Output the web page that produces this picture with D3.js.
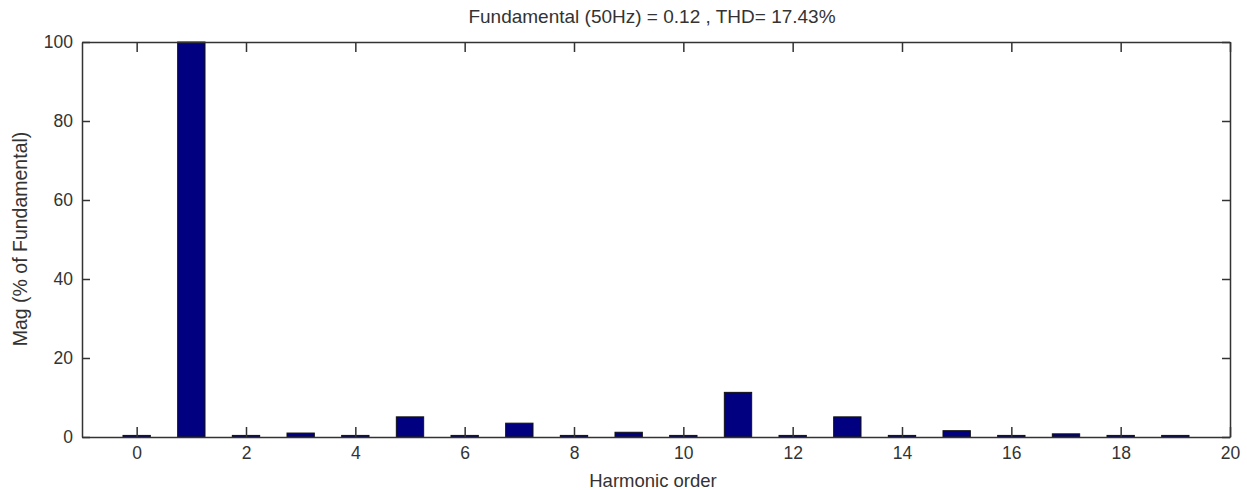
<!DOCTYPE html>
<html><head><meta charset="utf-8">
<script src="https://cdn.jsdelivr.net/npm/d3@7"></script>
<style>
body{margin:0;background:#fff;}
text{font-family:"Liberation Sans",Arial,sans-serif;fill:#333;}
</style></head>
<body><svg id="c" width="1247" height="490"></svg>
<script>
const harmonics = [0,1,2,3,4,5,6,7,8,9,10,11,12,13,14,15,16,17,18,19];
const magnitudes = [0.4,100,0.4,1.0,0.4,5.1,0.4,3.5,0.4,1.2,0.4,11.3,0.4,5.1,0.4,1.6,0.4,0.8,0.4,0.4];
const xTicks = [0,2,4,6,8,10,12,14,16,18,20];
const yTicks = [0,20,40,60,80,100];
const titleText = "Fundamental (50Hz) = 0.12 , THD= 17.43%";
const xLabel = "Harmonic order";
const yLabel = "Mag (% of Fundamental)";

const svg = d3.select("#c");
const L=82,R=1230,T=42,B=437;
const x = d3.scaleLinear().domain([-1,20]).range([L,R]);
const y = d3.scaleLinear().domain([0,100]).range([B,T]);
const bw = x(0.5)-x(0);

svg.append("g").selectAll("rect").data(harmonics).join("rect")
  .attr("x",d=>x(d)-bw/2).attr("width",bw)
  .attr("y",(d,i)=>y(magnitudes[i])).attr("height",(d,i)=>y(0)-y(magnitudes[i]))
  .attr("fill","#000080").attr("stroke","#111").attr("stroke-width",1);

const fs = "17.5px";
function style(g){
  g.select(".domain").attr("stroke","#333").attr("stroke-width",1.5);
  g.selectAll(".tick line").attr("stroke","#333").attr("stroke-width",1.5);
  g.selectAll("text").style("font-size",fs).attr("fill","#333");
}
svg.append("g").attr("transform",`translate(0,${B})`)
  .call(d3.axisBottom(x).tickValues(xTicks).tickSize(-10).tickSizeOuter(0).tickPadding(10).tickFormat(d3.format("d"))).call(style);
svg.append("g").attr("transform",`translate(0,${T})`)
  .call(d3.axisTop(x).tickValues(xTicks).tickSize(-10).tickSizeOuter(0).tickFormat("")).call(style);
svg.append("g").attr("transform",`translate(${L},0)`)
  .call(d3.axisLeft(y).tickValues(yTicks).tickSize(-8).tickSizeOuter(0).tickPadding(9).tickFormat(d3.format("d"))).call(style);
svg.append("g").attr("transform",`translate(${R},0)`)
  .call(d3.axisRight(y).tickValues(yTicks).tickSize(-8).tickSizeOuter(0).tickFormat("")).call(style);

svg.append("text").attr("x",652).attr("y",23).attr("text-anchor","middle").style("font-size","19px").text(titleText);
svg.append("text").attr("x",653).attr("y",487).attr("text-anchor","middle").style("font-size","18.5px").text(xLabel);
svg.append("text").attr("transform",`translate(27,239) rotate(-90)`).attr("text-anchor","middle").style("font-size","19.5px").text(yLabel);
</script></body></html>
